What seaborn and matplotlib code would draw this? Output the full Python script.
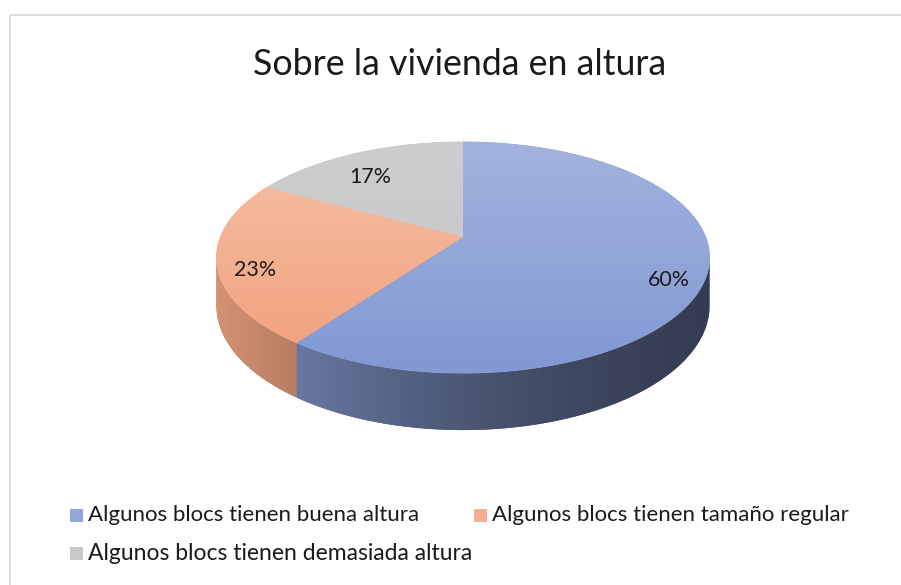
import numpy as np
import matplotlib
matplotlib.use("Agg")
import matplotlib.pyplot as plt
from matplotlib.patches import Polygon, Rectangle
from matplotlib.colors import to_rgb
import seaborn as sns

title = "Sobre la vivienda en altura"
categories = ["Algunos blocs tienen buena altura",
              "Algunos blocs tienen tamaño regular",
              "Algunos blocs tienen demasiada altura"]
values = [60, 23, 17]
top_colors = ["#A3B3DD", "#F5BFA5", "#CDCDCD"]
bottom_colors = ["#8198D3", "#F2A07C", "#C5C5C5"]
side_colors = ["#8A9FD6", "#F3A683", "#C8C8C8"]
legend_colors = ["#93A7DA", "#F4AF90", "#C9C9C9"]

sns.set_theme(style="white")
plt.rcParams['font.family'] = ['Lato', 'DejaVu Sans']

W, H = 901, 585
fig = plt.figure(figsize=(W / 100, H / 100), dpi=100)
ax = fig.add_axes([0, 0, 1, 1])
ax.axis('off')

# 3D pie geometry (pixel space)
cx, cy = 463, 237
B, A, p, T = 242.6, 111.9, 0.1775, 46.9


def proj(phi, depth=0.0, r=1.0):
    x = r * np.sin(phi)
    z = r * np.cos(phi)
    d = 1 + p * z
    return cx + B * x / d, cy + (-A * z + T * depth) / d


vals = np.array(values, dtype=float)
bounds = np.concatenate([[0], np.cumsum(vals) / vals.sum() * 2 * np.pi])
vis0, vis1 = np.pi - np.arccos(p), np.pi + np.arccos(p)

# side walls
xs = np.arange(cx - 260, cx + 261)
s = np.clip((xs - cx) / (B * 1.016), -1, 1)
fac = 0.55 - 0.25 * s + 0.08 * s ** 2
for i in range(len(vals)):
    a0, a1 = max(bounds[i], vis0), min(bounds[i + 1], vis1)
    if a1 <= a0:
        continue
    ph = np.linspace(a0, a1, 200)
    tx, ty = proj(ph, 0)
    bx, by = proj(ph[::-1], 1)
    pts = np.column_stack([np.concatenate([tx, bx]), np.concatenate([ty, by])])
    base = np.array(to_rgb(side_colors[i]))
    img = np.clip(fac[:, None] * base[None, :], 0, 1)[None, :, :]
    ax.add_patch(Polygon(pts, closed=True, facecolor=img[0, len(xs) // 2],
                         edgecolor='none', zorder=1))
    im = ax.imshow(img, extent=(xs[0], xs[-1], 440, 200), origin='upper',
                   aspect='auto', interpolation='bilinear', zorder=2)
    poly = Polygon(pts, closed=True, facecolor='none', edgecolor='none', zorder=0)
    ax.add_patch(poly)
    im.set_clip_path(poly)

# top faces
ys = np.linspace(140, 376, 240)
tnorm = (ys - 142) / (373 - 142)
for i in range(len(vals)):
    ph = np.linspace(bounds[i], bounds[i + 1], 300)
    ax_, ay_ = proj(ph, 0)
    pts = np.column_stack([np.concatenate([[cx], ax_]), np.concatenate([[cy], ay_])])
    c0 = np.array(to_rgb(top_colors[i]))
    c1 = np.array(to_rgb(bottom_colors[i]))
    img = np.clip(c0[None, :] * (1 - tnorm[:, None]) + c1[None, :] * tnorm[:, None], 0, 1)[:, None, :]
    ax.add_patch(Polygon(pts, closed=True, facecolor=(c0 + c1) / 2,
                         edgecolor=(c0 + c1) / 2, lw=0.6, zorder=3))
    im = ax.imshow(img, extent=(cx - 260, cx + 260, ys[-1], ys[0]), origin='upper',
                   aspect='auto', interpolation='bilinear', zorder=4)
    poly = Polygon(pts, closed=True, facecolor='none', edgecolor='none', zorder=0)
    ax.add_patch(poly)
    im.set_clip_path(poly)

ax.set_xlim(0, W)
ax.set_ylim(H, 0)

renderer = fig.canvas.get_renderer()


def fit(t, target_w):
    bb = t.get_window_extent(renderer)
    t.set_fontsize(t.get_fontsize() * target_w / bb.width)


# percentage labels
for i in range(len(vals)):
    m = (bounds[i] + bounds[i + 1]) / 2
    lx, ly = proj(m, 0, 0.85)
    t = ax.text(lx, ly + 12, f"{values[i]:.0f}%", ha='center', va='center',
                fontsize=14, color='#1a1a1a', zorder=6)
    fit(t, 42)

# title
t = ax.text(460, 75, title, ha='center', va='baseline', fontsize=24, color='#1a1a1a')
fit(t, 414)

# legend
leg_pos = [(70, 515), (474, 515), (70, 553)]
widths = [332, 358, 386]
for i, (lx, ly) in enumerate(leg_pos):
    ax.add_patch(Rectangle((lx, ly - 6.5), 13, 13, facecolor=legend_colors[i], edgecolor='none'))
    t = ax.text(lx + 18, ly, categories[i], ha='left', va='center', fontsize=14, color='#1a1a1a')
    fit(t, widths[i])

# chart border
ax.add_patch(Rectangle((9.5, 14.5), W, H, facecolor='none', edgecolor='#D9D9D9', lw=1.3))

fig.savefig("out.png", dpi=100)
